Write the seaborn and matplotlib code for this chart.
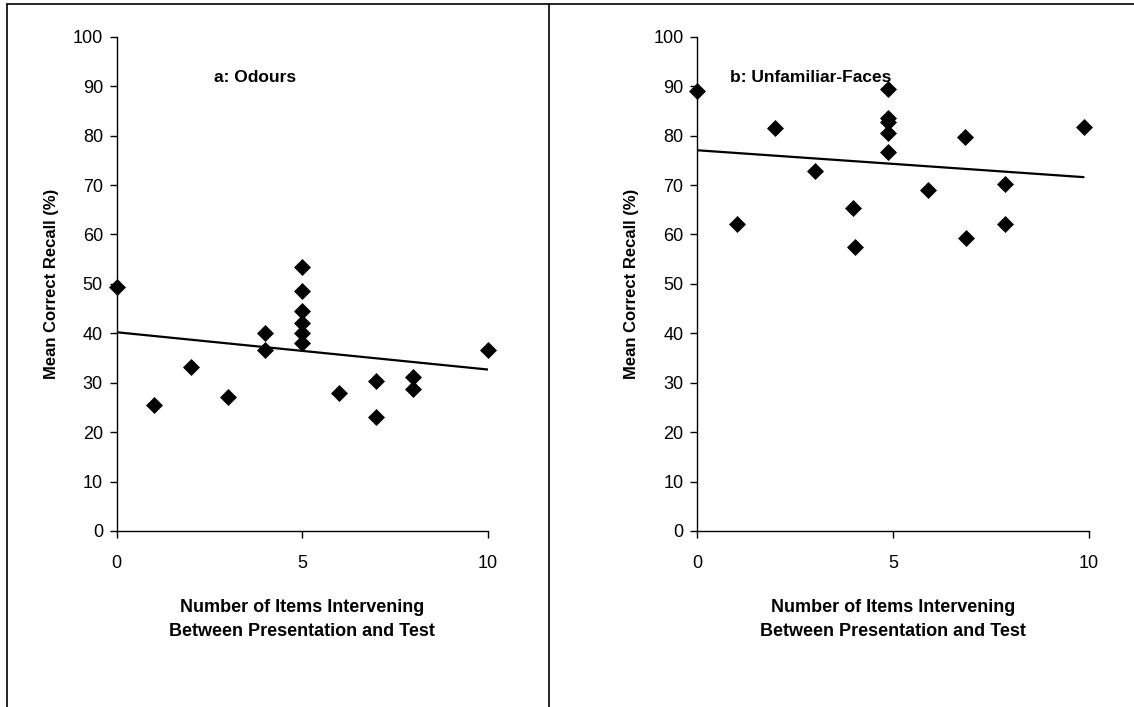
import numpy as np
import pandas as pd
import matplotlib
matplotlib.use("Agg")
import matplotlib.pyplot as plt
import seaborn as sns
from matplotlib.lines import Line2D

# Data
odour_items = [0, 1, 2, 3, 4, 4, 5, 5, 5, 5, 5, 5, 6, 7, 7, 8, 8, 10]
odour_recall = [49.3, 25.4, 33.2, 27.1, 40.0, 36.7, 53.5, 48.5, 44.5, 42.0,
                40.0, 38.0, 27.9, 30.3, 23.0, 31.1, 28.8, 36.6]

faces_items = [0, 1.02, 1.99, 3.01, 3.98, 4.02, 4.87, 4.87, 4.87, 4.87, 4.88,
               5.9, 6.85, 6.87, 7.86, 7.87, 9.87]
faces_recall = [89.1, 62.1, 81.6, 72.8, 65.3, 57.5, 89.5, 83.6, 82.7, 80.6,
                76.6, 68.9, 79.8, 59.3, 70.2, 62.1, 81.8]

panel_titles = ["a: Odours", "b: Unfamiliar-Faces"]
x_ticks = [0, 5, 10]
y_ticks = list(range(0, 101, 10))

sns.set_style("white")
plt.rcParams['font.family'] = ['Liberation Sans', 'DejaVu Sans']
plt.rcParams['text.color'] = 'black'
plt.rcParams['axes.labelcolor'] = 'black'
plt.rcParams['xtick.color'] = 'black'
plt.rcParams['ytick.color'] = 'black'

fig = plt.figure(figsize=(11.34, 7.07), dpi=100)

panels = [
    (pd.DataFrame({'items': odour_items, 'recall': odour_recall}), [0.103, 0.249, 0.327, 0.699], 0.372),
    (pd.DataFrame({'items': faces_items, 'recall': faces_recall}), [0.615, 0.249, 0.345, 0.699], 0.29),
]

for (df, rect, tx), title in zip(panels, panel_titles):
    ax = fig.add_axes(rect)
    # least-squares trend line over the data range
    sns.regplot(data=df, x='items', y='recall', ax=ax, scatter=False, ci=None,
                line_kws=dict(color='black', linewidth=1.6))
    sns.scatterplot(data=df, x='items', y='recall', ax=ax, marker='D', s=75,
                    color='black', edgecolor='black', linewidth=0, zorder=3)
    ax.set_xlim(0, 10)
    ax.set_ylim(0, 100)
    ax.set_xticks(x_ticks)
    ax.set_yticks(y_ticks)
    ax.tick_params(axis='both', direction='out', length=5, width=1,
                   labelsize=13, pad=5, left=True, bottom=True)
    ax.tick_params(axis='x', pad=12)
    for side in ['top', 'right']:
        ax.spines[side].set_visible(False)
    for side in ['left', 'bottom']:
        ax.spines[side].set_color('black')
        ax.spines[side].set_linewidth(1)
    ax.set_ylabel('Mean Correct Recall (%)', fontsize=12, fontweight='bold', labelpad=10)
    ax.set_xlabel('Number of Items Intervening\nBetween Presentation and Test',
                  fontsize=13, fontweight='bold', labelpad=20, linespacing=1.5)
    ax.text(tx, 0.917, title, transform=ax.transAxes, fontsize=12.5,
            fontweight='bold', ha='center', va='center')
    for coll in ax.collections:
        coll.set_clip_on(False)

# panel frames
top = 1 - 4 / 707
for xs, ys in [([7 / 1134, 7 / 1134], [0, top]),
               ([7 / 1134, 1], [top, top]),
               ([549 / 1134, 549 / 1134], [0, top])]:
    fig.add_artist(Line2D(xs, ys, color='black', linewidth=1.2, transform=fig.transFigure))

fig.savefig('out.png', dpi=100, facecolor='white')
